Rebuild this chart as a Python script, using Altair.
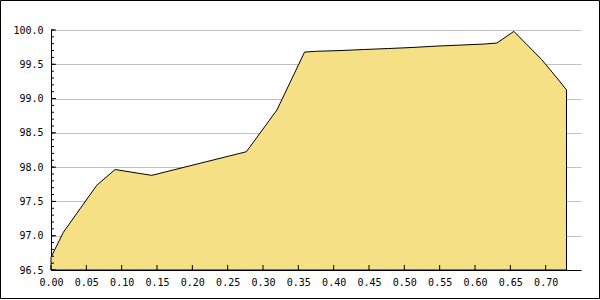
import altair as alt
import pandas as pd

# data
xs = [0.0, 0.0175, 0.0647, 0.0907, 0.1426, 0.2765, 0.3197, 0.3588, 0.376, 0.409,
      0.442, 0.478, 0.511, 0.545, 0.579, 0.613, 0.631, 0.655, 0.6945, 0.716, 0.7295]
ys = [96.685, 97.05, 97.735, 97.965, 97.88, 98.225, 98.833, 99.678, 99.69, 99.70,
      99.715, 99.73, 99.745, 99.765, 99.78, 99.795, 99.81, 99.98, 99.567, 99.30, 99.126]

x_ticks = [round(i * 0.05, 2) for i in range(15)]          # 0.00 .. 0.70
y_major = [round(96.5 + i * 0.5, 1) for i in range(8)]     # 96.5 .. 100.0
y_minor = [round(96.5 + i * 0.1, 1) for i in range(36)]

W, H = 530, 240
FONT = "DejaVu Sans Mono"

df = pd.DataFrame({"x": xs, "y": ys})
xscale = alt.Scale(domain=[0, 0.75], nice=False, zero=False)
yscale = alt.Scale(domain=[96.5, 100.0], nice=False, zero=False)

xaxis = alt.Axis(
    values=x_ticks, format=".2f", title=None, grid=False, ticks=False,
    domainColor="black", labelFont=FONT, labelFontSize=10, labelColor="black",
    labelPadding=7, labelFlush=False, labelOverlap=False)
yaxis = alt.Axis(
    values=y_major, format=".1f", title=None, grid=True, gridColor="#C0C0C0",
    ticks=False, domainColor="black", labelFont=FONT, labelFontSize=10,
    labelColor="black", labelPadding=8, labelFlush=False, labelOverlap=False)

area = alt.Chart(df).mark_area(
    color="#F5E085", stroke="black", strokeWidth=1, opacity=1
).encode(
    x=alt.X("x:Q", scale=xscale, axis=xaxis),
    y=alt.Y("y:Q", scale=yscale, stack=None, axis=yaxis),
)

xt = alt.Chart(pd.DataFrame({"x": x_ticks})).mark_rule(color="black", strokeWidth=1).encode(
    x=alt.X("x:Q", scale=xscale, axis=xaxis), y=alt.value(H), y2=alt.value(H - 5))
ymaj = alt.Chart(pd.DataFrame({"y": y_major})).mark_rule(color="black", strokeWidth=1).encode(
    y=alt.Y("y:Q", scale=yscale, axis=yaxis), x=alt.value(0), x2=alt.value(5))
ymin = alt.Chart(pd.DataFrame({"y": y_minor})).mark_rule(color="black", strokeWidth=1).encode(
    y=alt.Y("y:Q", scale=yscale, axis=yaxis), x=alt.value(0), x2=alt.value(3))
border = alt.Chart(pd.DataFrame({"a": [0]})).mark_rect(
    filled=False, stroke="black", strokeWidth=1).encode(
    x=alt.value(-50.5), x2=alt.value(548.5), y=alt.value(-29.5), y2=alt.value(268.5))

chart = alt.layer(area, xt, ymaj, ymin, border).properties(
    width=W, height=H,
    autosize=alt.AutoSizeParams(type="none"),
    padding={"left": 51, "top": 30, "right": 19, "bottom": 30},
    background="white",
).configure_view(stroke=None)

chart.save("out.html", embed_options={"renderer": "svg", "actions": False})
